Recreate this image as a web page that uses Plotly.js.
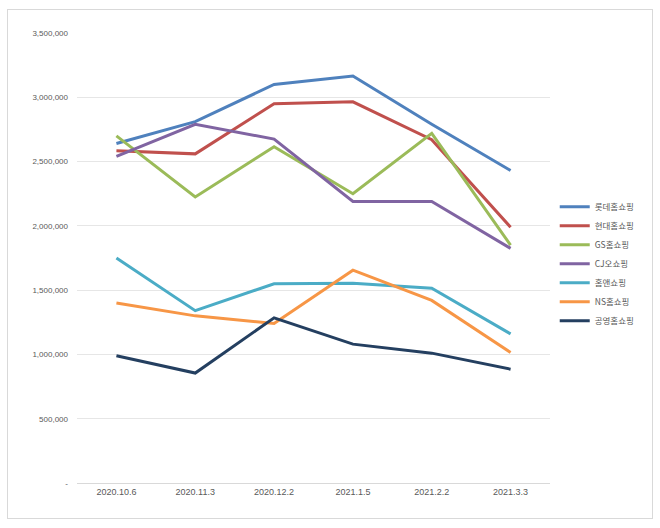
<!DOCTYPE html>
<html><head><meta charset="utf-8">
<script src="https://cdn.plot.ly/plotly-3.0.1.min.js"></script>
<style>
body{margin:0;background:#fff;}
#frame{position:absolute;left:7px;top:9px;width:644px;height:508px;border:1px solid #d9d9d9;}
#chart{position:absolute;left:0;top:0;width:660px;height:528px;}
</style></head>
<body>
<div id="frame"></div>
<div id="chart"></div>
<script>
const categories = ['2020.10.6','2020.11.3','2020.12.2','2021.1.5','2021.2.2','2021.3.3'];
const seriesNames = ['롯데홈쇼핑','현대홈쇼핑','GS홈쇼핑','CJ오쇼핑','홈앤쇼핑','NS홈쇼핑','공영홈쇼핑'];
const lotte   = [2640000, 2810000, 3100000, 3165000, 2790000, 2430000];
const hyundai = [2585000, 2560000, 2950000, 2965000, 2670000, 1990000];
const gs      = [2700000, 2225000, 2615000, 2250000, 2720000, 1850000];
const cj      = [2540000, 2790000, 2675000, 2190000, 2190000, 1825000];
const homeand = [1750000, 1340000, 1550000, 1553000, 1515000, 1160000];
const ns      = [1400000, 1300000, 1240000, 1655000, 1420000, 1015000];
const gongyoung = [990000, 855000, 1285000, 1080000, 1010000, 885000];
const yTickVals = [0, 500000, 1000000, 1500000, 2000000, 2500000, 3000000, 3500000];
const yTickText = ['-', '500,000', '1,000,000', '1,500,000', '2,000,000', '2,500,000', '3,000,000', '3,500,000'];

const seriesValues = [lotte, hyundai, gs, cj, homeand, ns, gongyoung];
const colors = ['#4F81BD','#C0504D','#9BBB59','#8064A2','#4BACC6','#F79646','#243F60'];

const traces = seriesValues.map((vals, i) => ({
  type: 'scatter', mode: 'lines', x: categories, y: vals, name: seriesNames[i],
  line: {color: colors[i], width: 3}
}));

const layout = {
  width: 660, height: 528,
  margin: {l: 77, r: 110, t: 33, b: 45},
  paper_bgcolor: 'rgba(0,0,0,0)', plot_bgcolor: 'rgba(0,0,0,0)',
  font: {family: 'Liberation Sans, Noto Sans CJK KR, sans-serif', color: '#595959', size: 9},
  showlegend: true,
  legend: {x: 1.01, xanchor: 'left', xref: 'paper', y: 0.487, yanchor: 'middle', yref: 'paper',
           font: {family: 'Noto Sans CJK KR, sans-serif', size: 8.5, color: '#595959'},
           itemwidth: 30, tracegroupgap: 0, bgcolor: 'rgba(0,0,0,0)'},
  xaxis: {type: 'category', range: [-0.5, 5.5], showgrid: false, zeroline: false,
          showline: true, linecolor: '#d9d9d9', linewidth: 1, ticks: '',
          tickfont: {size: 9, color: '#595959'}, fixedrange: true},
  yaxis: {range: [0, 3500000], tickvals: yTickVals, ticktext: yTickText,
          showgrid: true, gridcolor: '#e6e6e6', gridwidth: 1, zeroline: false,
          showline: false, ticks: '', ticklabelstandoff: 8,
          tickfont: {size: 8, color: '#595959'}, fixedrange: true}
};

Plotly.newPlot('chart', traces, layout, {displayModeBar: false, staticPlot: true});
</script>
</body></html>
